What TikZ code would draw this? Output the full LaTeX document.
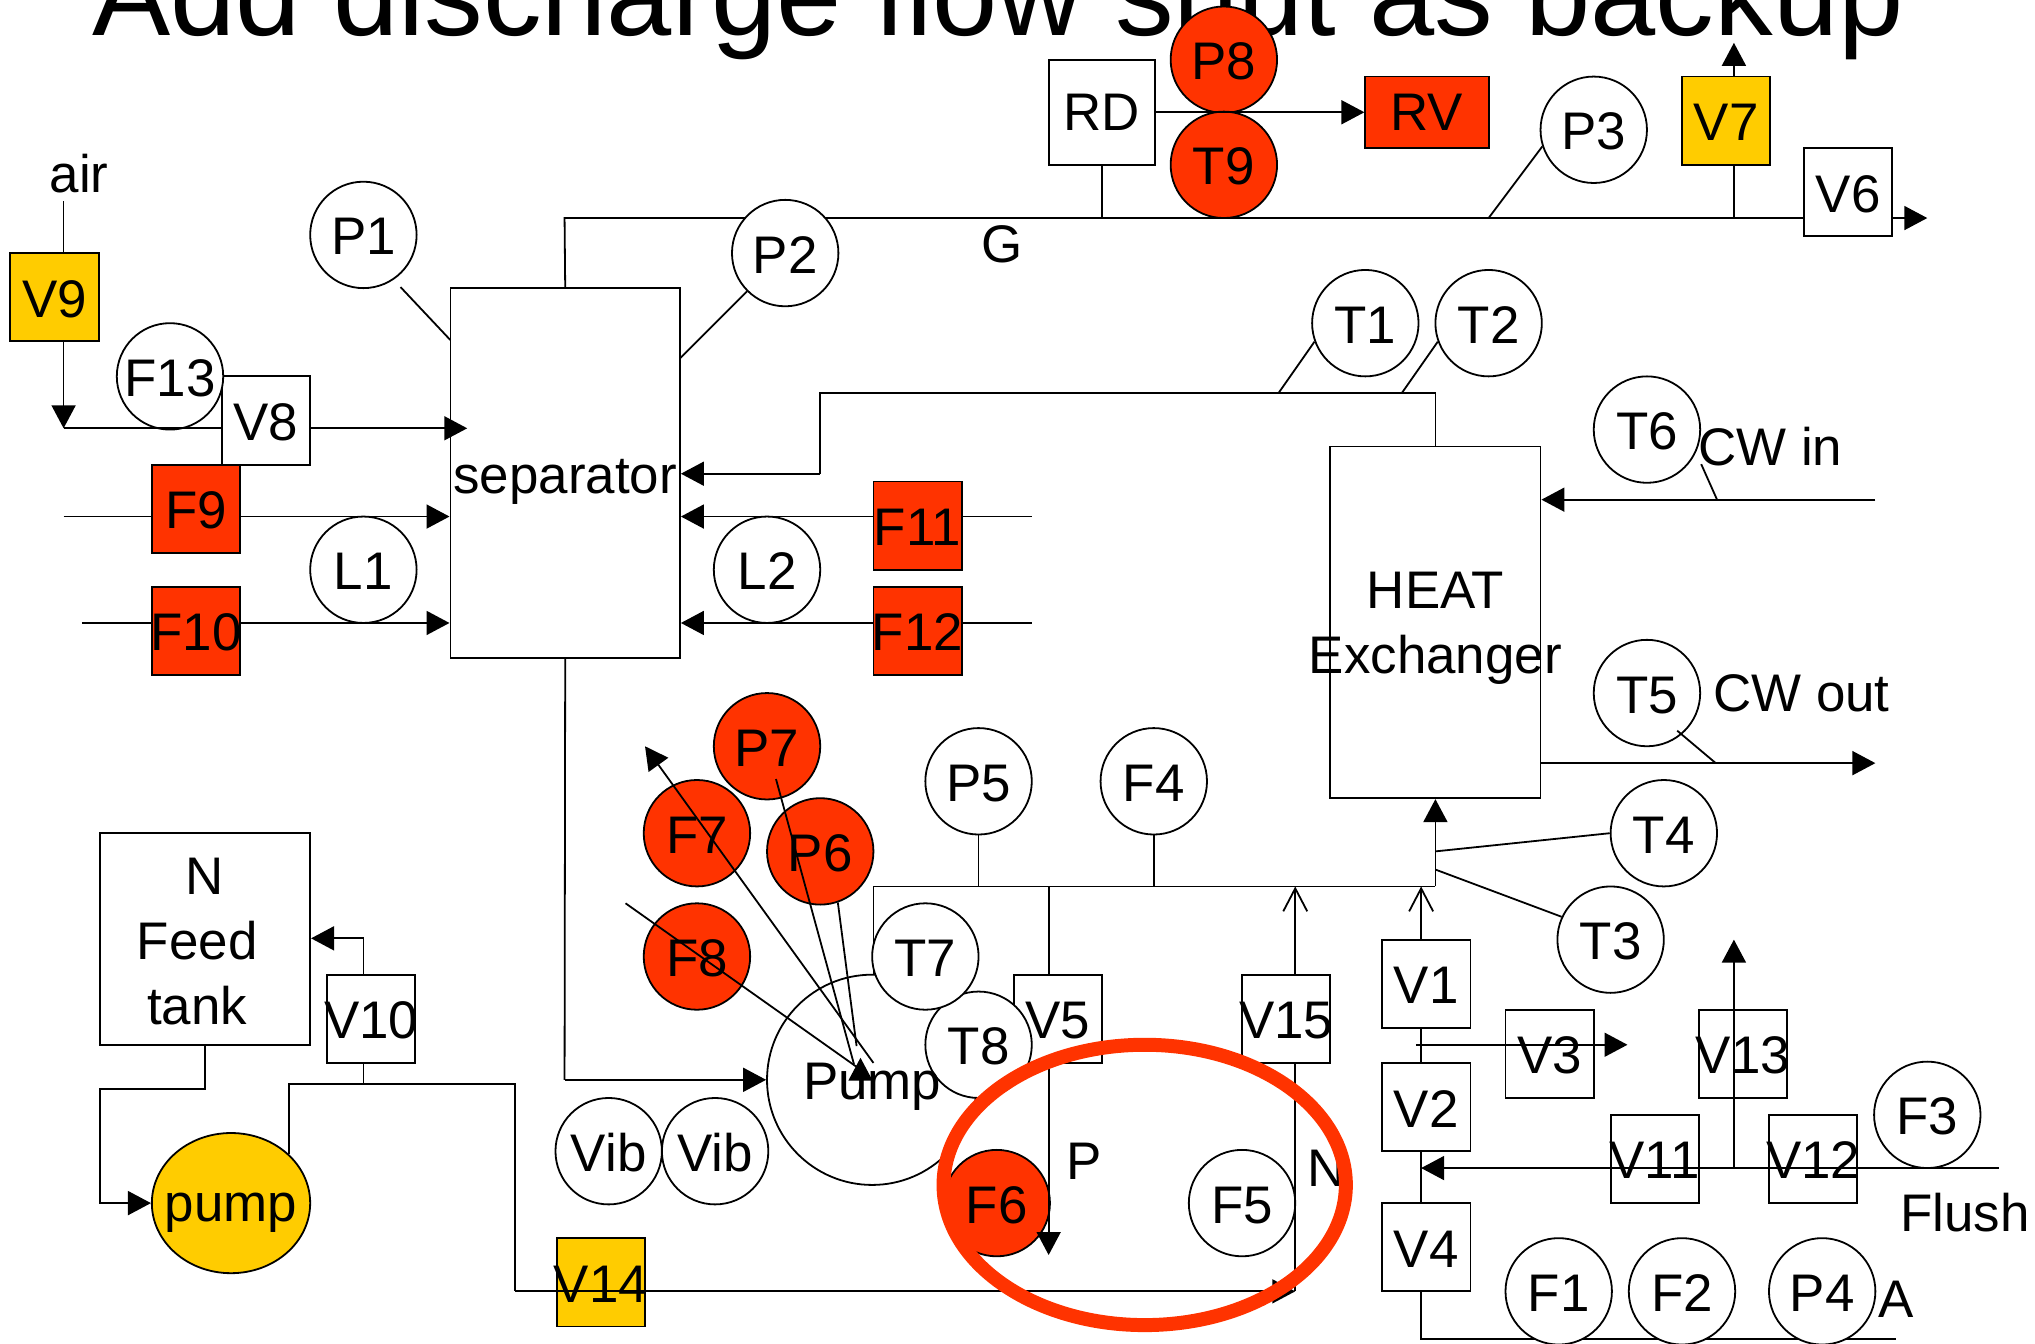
\documentclass[tikz,border=0pt]{standalone}
\usepackage{fontspec}
\setmainfont{Liberation Sans}
\usetikzlibrary{arrows.meta,shapes.geometric}
\definecolor{alarmred}{HTML}{FF3300}
\definecolor{valveyellow}{HTML}{FFCC00}
\newcommand{\wide}[1]{\makebox[0pt]{#1}}
\tikzstyle{tag}=[font=\fontsize{26.5}{32.5}\selectfont,inner sep=0pt,align=center]
\tikzstyle{vessel}=[tag,rectangle,draw,fill=white,minimum size=0pt]
\tikzstyle{valve}=[vessel,minimum size=44.2pt,text height=20pt,text depth=0pt]
\tikzstyle{vertex}=[tag,circle,draw,fill=white,minimum size=53.3pt,text height=20pt,text depth=0pt]
\tikzstyle{pipe}=[line width=0.9pt]
\tikzstyle{flow}=[pipe,-{Triangle[length=11.5pt,width=12pt]}]
\tikzstyle{inflow}=[pipe,-{Straight Barb[length=11.5pt,width=12pt]}]

\begin{document}
\begin{tikzpicture}[x=0.65pt,y=-0.65pt,line width=0.9pt]
		\useasboundingbox (0,0) rectangle (1568,1035);
		\node[anchor=base,inner sep=0pt,font=\fontsize{58.7}{60}\selectfont] at (769,27.5) (title) {Add discharge flow shut as backup};
		\node[valve,fill=valveyellow] at (42,229) (V9) {V9};
		\node[valve] at (205,324) (V8) {V8};
		\node[valve,fill=alarmred] at (151,392) (F9) {F9};
		\node[valve,fill=alarmred] at (151,486) (F10) {\wide{F10}};
		\node[vessel,minimum width=115pt,minimum height=185.2pt] at (435.5,364.5) (separator) {\raisebox{-10pt}[0pt][0pt]{separator}};
		\node[valve,fill=alarmred] at (707,405) (F11) {\wide{F11}};
		\node[valve,fill=alarmred] at (707,486) (F12) {\wide{F12}};
		\node[vessel,minimum width=53.3pt,minimum height=52.7pt] at (849,86.5) (RD) {RD};
		\node[vessel,fill=alarmred,minimum width=61.8pt,minimum height=35.8pt] at (1099.5,86.5) (RV) {RV};
		\node[valve,fill=valveyellow] at (1330,93) (V7) {V7};
		\node[valve] at (1424,148) (V6) {V6};
		\node[vessel,minimum width=105.3pt,minimum height=176.2pt] at (1106,479.5) (heat) {\rule{0pt}{24.4pt}HEAT\\\wide{Exchanger}};
		\node[vessel,minimum width=105.3pt,minimum height=106pt] at (158,723.5) (tank) {\rule{0pt}{20.6pt}N\\\mbox{Feed\hspace{7.8pt}}\\\mbox{tank\hspace{7.8pt}}};
		\node[valve] at (286,785) (V10) {\wide{V10}};
		\node[valve] at (815,785) (V5) {V5};
		\node[valve] at (991,785) (V15) {\wide{V15}};
		\node[valve] at (1099,758) (V1) {V1};
		\node[valve] at (1099,853) (V2) {V2};
		\node[valve] at (1099,961) (V4) {V4};
		\node[valve] at (1194,812) (V3) {V3};
		\node[valve] at (1343,812) (V13) {\wide{V13}};
		\node[valve] at (1275,893) (V11) {\wide{V11}};
		\node[valve] at (1397,893) (V12) {\wide{V12}};
		\node[valve,fill=valveyellow] at (463,988) (V14) {\wide{V14}};
		\node[vertex,minimum size=105.3pt] at (672,832) (pumpbig) {};
		\node[tag,ellipse,draw,fill=valveyellow,minimum width=79.3pt,minimum height=70.2pt] at (178,927) (feedpump) {\raisebox{-9pt}[0pt][0pt]{\wide{pump}}};
		\coordinate (gasleft) at (435,168);
		\coordinate (retA) at (1106,303);
		\coordinate (retB) at (632,303);
		\coordinate (retC) at (632,365);
		\coordinate (disA) at (435,832);
		\coordinate (mainA) at (673,683);
		\coordinate (mainB) at (1106,683);
		\coordinate (botA) at (1095,1032);
		\coordinate (botB) at (1461,1032);
		\draw[pipe] (separator.north) -- (gasleft) -- (V6.west |- gasleft);
		\draw[pipe] (mainA) -- (pumpbig.north -| mainA);
		\draw[pipe] (heat.north) -- (retA) -- (retB) -- (retC);
		\draw[pipe] (V4.south -| botA) -- (botA) -- (botB);
		\node[vertex] at (280,181) (P1) {P1};
		\node[vertex] at (605,195) (P2) {P2};
		\node[vertex] at (131,290) (F13) {F13};
		\node[vertex] at (280,439) (L1) {L1};
		\node[vertex] at (591,439) (L2) {L2};
		\node[vertex,fill=alarmred] at (943,46) (P8) {P8};
		\node[vertex,fill=alarmred] at (943,127) (T9) {T9};
		\node[vertex] at (1228,100) (P3) {P3};
		\node[vertex] at (1052,249) (T1) {T1};
		\node[vertex] at (1147,249) (T2) {T2};
		\node[vertex] at (1269,331) (T6) {T6};
		\node[vertex] at (1269,534) (T5) {T5};
		\node[vertex] at (1282,642) (T4) {T4};
		\node[vertex] at (1241,724) (T3) {T3};
		\node[vertex,fill=alarmred] at (591,575) (P7) {P7};
		\node[vertex,fill=alarmred] at (537,642) (F7) {F7};
		\node[vertex,fill=alarmred] at (632,656) (P6) {P6};
		\node[vertex,fill=alarmred] at (537,737) (F8) {F8};
		\node[vertex] at (754,602) (P5) {P5};
		\node[vertex] at (889,602) (F4) {F4};
		\node[vertex] at (754,805) (T8) {T8};
		\node[vertex] at (713,737) (T7) {T7};
		\node[vertex] at (469,887) (vibA) {Vib};
		\node[vertex] at (551,887) (vibB) {Vib};
		\node[vertex,fill=alarmred] at (768,927) (F6) {F6};
		\node[vertex] at (957,927) (F5) {F5};
		\node[vertex] at (1201,995) (F1) {F1};
		\node[vertex] at (1296,995) (F2) {F2};
		\node[vertex] at (1404,995) (P4) {P4};
		\node[vertex] at (1485,859) (F3) {F3};
		\node[tag] at (672,837) (pumptext) {Pump};
		\node[tag] at (61,134) (air) {air};
		\node[tag] at (772,188) (G) {G};
		\node[tag] at (1364,344) (cwin) {CW in};
		\node[tag] at (1388,534) (cwout) {CW out};
		\node[tag] at (835,895) (P) {P};
		\node[tag] at (1022,900) (N) {N};
		\node[tag] at (1514,934) (flush) {Flush};
		\node[tag] at (1461,1001) (A) {A};
		\coordinate (airin) at (49,155);
		\coordinate (airjoin) at (49,330);
		\coordinate (sepair) at (360,330);
		\coordinate (F9in) at (49,398);
		\coordinate (F10in) at (63,480);
		\coordinate (F11in) at (795,398);
		\coordinate (F12in) at (795,480);
		\coordinate (sepP1) at (347,262);
		\coordinate (sepP2) at (524,276);
		\coordinate (gasP3) at (1147,168);
		\coordinate (gasend) at (1485,168);
		\coordinate (V7up) at (1336,33);
		\coordinate (V7down) at (1336,168);
		\coordinate (retT1) at (985,303);
		\coordinate (retT2) at (1080,303);
		\coordinate (cwinend) at (1445,385);
		\coordinate (cwinT6) at (1323,385);
		\coordinate (cwoutend) at (1445,588);
		\coordinate (cwoutT5) at (1322,588);
		\coordinate (heatT4) at (1106,656);
		\coordinate (heatT3) at (1106,670);
		\coordinate (V5top) at (808,683);
		\coordinate (V5end) at (808,967);
		\coordinate (V15top) at (998,683);
		\coordinate (V1top) at (1095,683);
		\coordinate (V3in) at (1091,805);
		\coordinate (V3end) at (1254,805);
		\coordinate (flushin) at (1540,900);
		\coordinate (flushend) at (1095,900);
		\coordinate (V13end) at (1336,724);
		\coordinate (V13low) at (1336,900);
		\coordinate (lowA) at (221,835);
		\coordinate (lowB) at (397,835);
		\coordinate (lowC) at (397,995);
		\coordinate (lowD) at (998,995);
		\coordinate (tankA) at (158,839);
		\coordinate (tankB) at (77,839);
		\coordinate (tankC) at (77,927);
		\coordinate (V10A) at (280,723);
		\coordinate (sensA) at (673,819);
		\coordinate (sensB) at (497,575);
		\coordinate (sensC) at (658,820);
		\coordinate (sensD) at (660,806);
		\coordinate (sensE) at (482,696);
		\coordinate (sensF) at (660,822);
		\coordinate (headA) at (663,830);
		\coordinate (headB) at (663,815);
		\draw[pipe] (airin) -- (V9.north -| airin);
		\draw[flow] (V9.south -| airin) -- (airjoin);
		\draw[pipe] (airjoin) -- (V8.west |- airjoin);
		\draw[flow] (V8.east |- airjoin) -- (sepair);
		\draw[pipe] (F9in) -- (F9.west |- F9in);
		\draw[flow] (F9.east |- F9in) -- (separator.west |- F9in);
		\draw[pipe] (F10in) -- (F10.west |- F10in);
		\draw[flow] (F10.east |- F10in) -- (separator.west |- F10in);
		\draw[pipe] (F11in) -- (F11.east |- F11in);
		\draw[flow] (F11.west |- F11in) -- (separator.east |- F11in);
		\draw[pipe] (F12in) -- (F12.east |- F12in);
		\draw[flow] (F12.west |- F12in) -- (separator.east |- F12in);
		\draw[flow] (retC) -- (separator.east |- retC);
		\draw[pipe,shorten <=5pt] (P1.-56) -- (sepP1);
		\draw[pipe] (P2.225) -- (sepP2);
		\draw[pipe] (RD.south) -- (RD.south |- gasleft);
		\draw[flow] (RD.east) -- (RV.west);
		\draw[pipe] (P3.198) -- (gasP3);
		\draw[pipe] (V7.south -| V7up) -- (V7down);
		\draw[flow] (V7.north -| V7up) -- (V7up);
		\draw[flow] (V6.east |- gasleft) -- (gasend);
		\draw[pipe] (T1.200) -- (retT1);
		\draw[pipe] (T2.200) -- (retT2);
		\draw[flow] (cwinend) -- (heat.east |- cwinend);
		\draw[pipe,shorten <=6.4pt] (T6.-25) -- (cwinT6);
		\draw[flow] (heat.east |- cwoutend) -- (cwoutend);
		\draw[pipe,shorten <=-3pt] (T5.-50) -- (cwoutT5);
		\draw[pipe] (separator.south) -- (disA);
		\draw[flow] (disA) -- (pumpbig.west);
		\draw[pipe] (mainA) -- (mainB);
		\draw[flow] (mainB) -- (heat.south);
		\draw[pipe] (P5) -- (P5 |- mainA);
		\draw[pipe] (F4) -- (F4 |- mainA);
		\draw[pipe] (T4.west) -- (heatT4);
		\draw[pipe] (T3.155) -- (heatT3);
		\draw[pipe] (V5top) -- (V5.north -| V5top);
		\draw[flow] (V5.south -| V5top) -- (V5end);
		\draw[inflow] (V15.north -| V15top) -- (V15top);
		\draw[pipe] (V15.south -| V15top) -- (lowD);
		\draw[inflow] (V1.north -| V1top) -- (V1top);
		\draw[pipe] (V1.south -| V1top) -- (V2.north -| V1top);
		\draw[pipe] (V2.south -| V1top) -- (V4.north -| V1top);
		\draw[flow] (V3in) -- (V3end);
		\draw[flow] (flushin) -- (flushend);
		\draw[flow] (V13low) -- (V13end);
		\draw[pipe] (feedpump.40) -- (lowA -| feedpump.40) -- (lowB) -- (lowC);
		\draw[flow] (lowC) -- (lowD);
		\draw[pipe] (V10.south -| V10A) -- (V10A |- lowA);
		\draw[flow] (V10.north -| V10A) -- (V10A) -- (tank.east |- V10A);
		\draw[flow] (tank.south -| tankA) -- (tankA) -- (tankB) -- (tankC) -- (feedpump.west |- tankC);
		\draw[flow] (sensA) -- (sensB);
		\draw[pipe,shorten <=17pt] (P7.center) -- (sensC);
		\draw[pipe] (P6.-71) -- (sensD);
		\draw[pipe] (sensE) -- (sensF);
		\draw[flow] (headA) -- (headB);
		\draw[alarmred,line width=7pt] (882,913) ellipse [x radius=155,y radius=108];
		\end{tikzpicture}
\end{document}
